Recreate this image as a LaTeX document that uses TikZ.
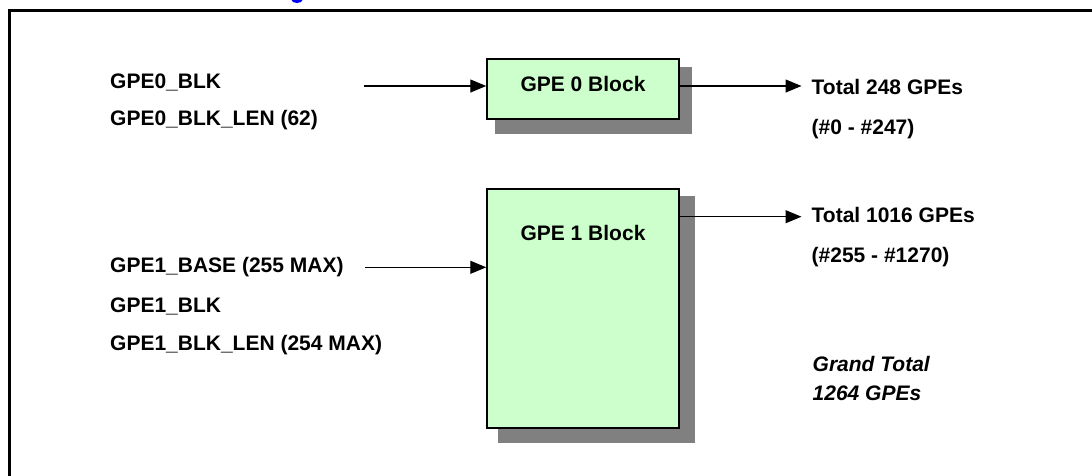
\documentclass[tikz,border=0pt]{standalone}
\usepackage{fontspec}
\setmainfont{Liberation Sans}
\usetikzlibrary{arrows.meta}
\definecolor{boxgreen}{HTML}{CCFFCC}
\definecolor{shadowgray}{HTML}{808080}
\definecolor{capblue}{HTML}{0000FF}
\begin{document}
\begin{tikzpicture}[x=1pt,y=-1pt,
  lbl/.style={anchor=base west,inner sep=0pt,font=\fontsize{21}{24}\selectfont\bfseries},
  ilbl/.style={lbl,font=\fontsize{21}{24}\selectfont\bfseries\itshape},
  blockbox/.style={draw=black,line width=1.5pt,fill=boxgreen,inner sep=0pt,minimum width=192pt},
  shadowbox/.style={fill=shadowgray,draw=none},
  blocktext/.style={anchor=base,inner sep=0pt,font=\fontsize{21}{24}\selectfont\bfseries},
  arr/.style={line width=1.2pt,-{Triangle[length=16pt,width=13pt]}},
  frame/.style={line width=2.5pt}]
\useasboundingbox (0,0) rectangle (1092,475);
% frame (top and left edges only)
\draw[frame] (1095,10.5) -- (9.5,10.5) -- (9.5,478);
% cut-off caption fragment
\fill[capblue] (291.5,0) arc[start angle=180,end angle=360,x radius=5.5pt,y radius=3pt] -- cycle;
% shadows
\fill[shadowgray] (495,67) rectangle (692,134);
\fill[shadowgray] (498,196) rectangle (695,443);
% blocks
\node[blockbox,minimum height=60pt] (b0) at (583,89) {};
\node[blockbox,minimum height=239pt] (b1) at (583,308.5) {};
\node[blocktext] (b0t) at (583,91) {GPE 0 Block};
\node[blocktext] (b1t) at (583,240.5) {GPE 1 Block};
% left labels
\node[lbl] (g0blk) at (110,88) {GPE0\_BLK};
\node[lbl] (g0len) at (110,125) {GPE0\_BLK\_LEN (62)};
\node[lbl] (g1base) at (110,272.5) {GPE1\_BASE (255 MAX)};
\node[lbl] (g1blk) at (110,312.5) {GPE1\_BLK};
\node[lbl] (g1len) at (110,350.5) {GPE1\_BLK\_LEN (254 MAX)};
% right labels
\node[lbl] (t0) at (811.5,94) {Total 248 GPEs};
\node[lbl] (r0) at (811.5,134) {(\#0 - \#247)};
\node[lbl] (t1) at (811.5,222.3) {Total 1016 GPEs};
\node[lbl] (r1) at (811.5,262.5) {(\#255 - \#1270)};
\node[ilbl] (gt) at (812.5,371.7) {Grand Total};
\node[ilbl] (gn) at (812.5,400) {1264 GPEs};
% connectors
\coordinate (in0) at (364,86);
\coordinate (in1) at (365,267.3);
\coordinate (out0) at (801.5,86);
\coordinate (out1) at (801.5,216.7);
\draw[arr] (in0) -- (in0 -| b0.west);
\draw[arr] (in1) -- (in1 -| b1.west);
\draw[arr] (out0 -| b0.east) -- (out0);
\draw[arr] (out1 -| b1.east) -- (out1);
\end{tikzpicture}
\end{document}
